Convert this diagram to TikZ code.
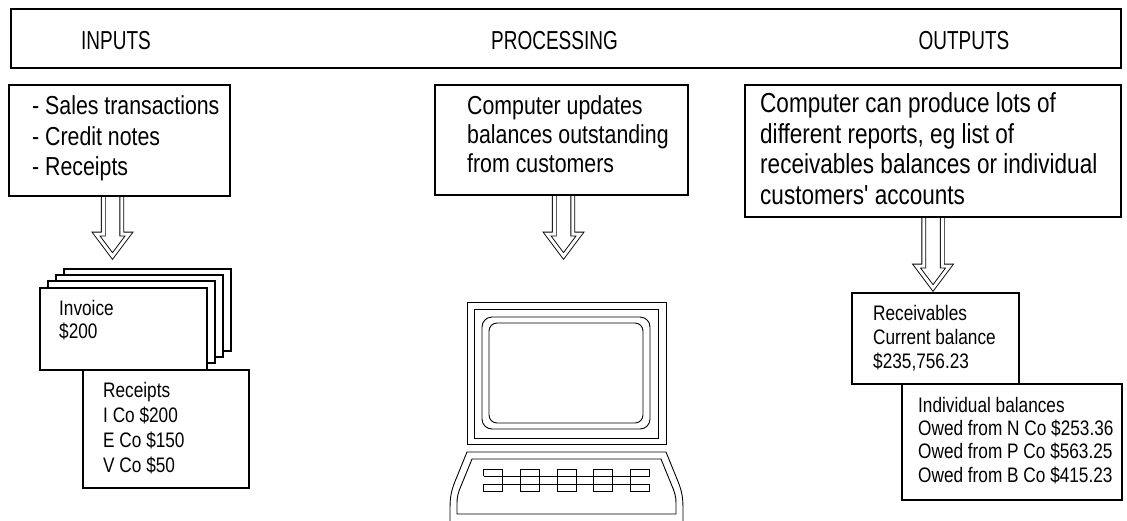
\documentclass[tikz,border=0pt]{standalone}
\usepackage{fontspec}
\setmainfont{Liberation Sans}[FakeStretch=0.82]
\newfontfamily\headfont{Liberation Sans}[FakeStretch=0.73]
% same face without TeX ligature mapping, for a straight apostrophe
\newfontfamily\rawfont{Liberation Sans}[FakeStretch=0.82, Ligatures=ResetAll]
\usetikzlibrary{calc}

% hollow double-outlined arrow pointing down, from #1 (start of shaft) to #2 (tip)
\newcommand\hollowdown[2]{%
  \draw[hollow] ($(#1)+(-9.25,0)$) -- ($(#2)+(-9.25,-22)$) -- ($(#2)+(-16.5,-22)$)
    -- (#2) -- ($(#2)+(16.5,-22)$) -- ($(#2)+(9.25,-22)$) -- ($(#1)+(9.25,0)$);}

\begin{document}
\begin{tikzpicture}[x=1pt,y=-1pt,
  box/.style={draw, line width=1.1pt, fill=white, inner sep=0pt, outer sep=0pt, anchor=north west},
  card/.style={box, minimum width=167pt, minimum height=82pt},
  head/.style={font=\headfont\fontsize{26}{30}\selectfont, anchor=base, inner sep=0pt},
  bigtext/.style={font=\fontsize{26}{30}\selectfont, align=left, inner sep=0pt, anchor=north west},
  smalltext/.style={font=\fontsize{21}{24}\selectfont, align=left, inner sep=0pt, anchor=north west},
  hollow/.style={draw, double, double distance=3pt, line width=0.9pt, line join=miter},
  thin/.style={line width=0.9pt},
]
\useasboundingbox (0,0) rectangle (1127,520);

% ---------- header band ----------
\node[box, minimum width=1110pt, minimum height=59pt] (band) at (11,9) {};
\node[head] (hin)  at (116,49)   {INPUTS};
\node[head] (hpr)  at (554.5,49) {PROCESSING};
\node[head] (hout) at (964,49)   {OUTPUTS};

% ---------- anchor points of the three arrows ----------
\coordinate (a1s) at (112.5,196);
\coordinate (a2s) at (563.5,195);
\coordinate (a3s) at (933,217);
\coordinate (a1t) at (112.5,256);
\coordinate (a2t) at (563.5,256);
\coordinate (a3t) at (933,288);
\hollowdown{a1s}{a1t}
\hollowdown{a2s}{a2t}
\hollowdown{a3s}{a3t}

% ---------- description boxes ----------
\node[box, minimum width=221pt, minimum height=111pt] (inbox) at (9,85) {};
\node[bigtext, font=\fontsize{26}{30.5}\selectfont] (intext) at (32,95.5)
  {- Sales transactions\\- Credit notes\\- Receipts};

\node[box, minimum width=253pt, minimum height=110pt] (procbox) at (435,85) {};
\node[bigtext, font=\fontsize{26}{29}\selectfont] (proctext) at (467,95.5)
  {Computer updates\\balances outstanding\\from customers};

\node[box, minimum width=376pt, minimum height=132pt] (outbox) at (745,85) {};
\node[bigtext, font=\fontsize{27.5}{30.5}\selectfont] (outtext) at (760,92.5)
  {Computer can produce lots of\\different reports, eg list of\\receivables balances or individual\\customers{\rawfont'} accounts};

% ---------- stack of invoices ----------
\node[card] (card4) at (64,269) {};
\node[card] (card3) at (56,275) {};
\node[card] (card2) at (48,281) {};
\node[card] (card1) at (40,288) {};
\node[smalltext, font=\fontsize{21}{23}\selectfont] (invtext) at (59,299.7) {Invoice\\\$200};

\node[box, minimum width=166pt, minimum height=118pt] (rcpt) at (83,370) {};
\node[smalltext, font=\fontsize{21}{25}\selectfont] (rcpttext) at (103,381.7)
  {Receipts\\I Co \$200\\E Co \$150\\V Co \$50};

% ---------- computer ----------
\draw[thin] (467,302) rectangle (666,444);
\draw[thin] (474,309) rectangle (658,438);
\draw[thin, rounded corners=10pt] (482,317) rectangle (650,429);
\draw[thin, rounded corners=8pt] (489,323) rectangle (643,423);
% keyboard body
\draw[thin] (450,521) -- (450,510) .. controls (450,497) and (451,491) .. (456,479)
  -- (467,452) -- (666,452) -- (677,479) .. controls (682,491) and (683,497) .. (683,510) -- (683,521);
\draw[thin] (472,459) -- (461,486) .. controls (458,493) and (457,497) .. (457,503)
  -- (457,514) -- (676,514) -- (676,503) .. controls (676,497) and (675,493) .. (672,486)
  -- (661,459) -- cycle;
% keys
\draw[thin] (483.5,476) -- (483.5,469) -- (502.5,469) -- (502.5,491) -- (483.5,491) -- (483.5,484);
\draw[thin] (520.25,469) rectangle (539.25,491);
\draw[thin] (557,469) rectangle (576,491);
\draw[thin] (593.75,469) rectangle (612.75,491);
\draw[thin] (649.5,476) -- (649.5,469) -- (630.5,469) -- (630.5,491) -- (649.5,491) -- (649.5,484);
\draw[thin] (483.5,476) -- (649.5,476);
\draw[thin] (483.5,484) -- (649.5,484);

% ---------- receivables printouts ----------
\node[box, minimum width=167pt, minimum height=91pt] (recv) at (852,293) {};
\node[smalltext] (recvtext) at (873,304.7)
  {Receivables\\Current balance\\\$235,756.23};

\node[box, minimum width=220pt, minimum height=116pt] (indiv) at (902,384) {};
\node[smalltext, font=\fontsize{21}{23.3}\selectfont] (indivtext) at (918,396.7)
  {Individual balances\\Owed from N Co \$253.36\\Owed from P Co \$563.25\\Owed from B Co \$415.23};
\end{tikzpicture}
\end{document}
